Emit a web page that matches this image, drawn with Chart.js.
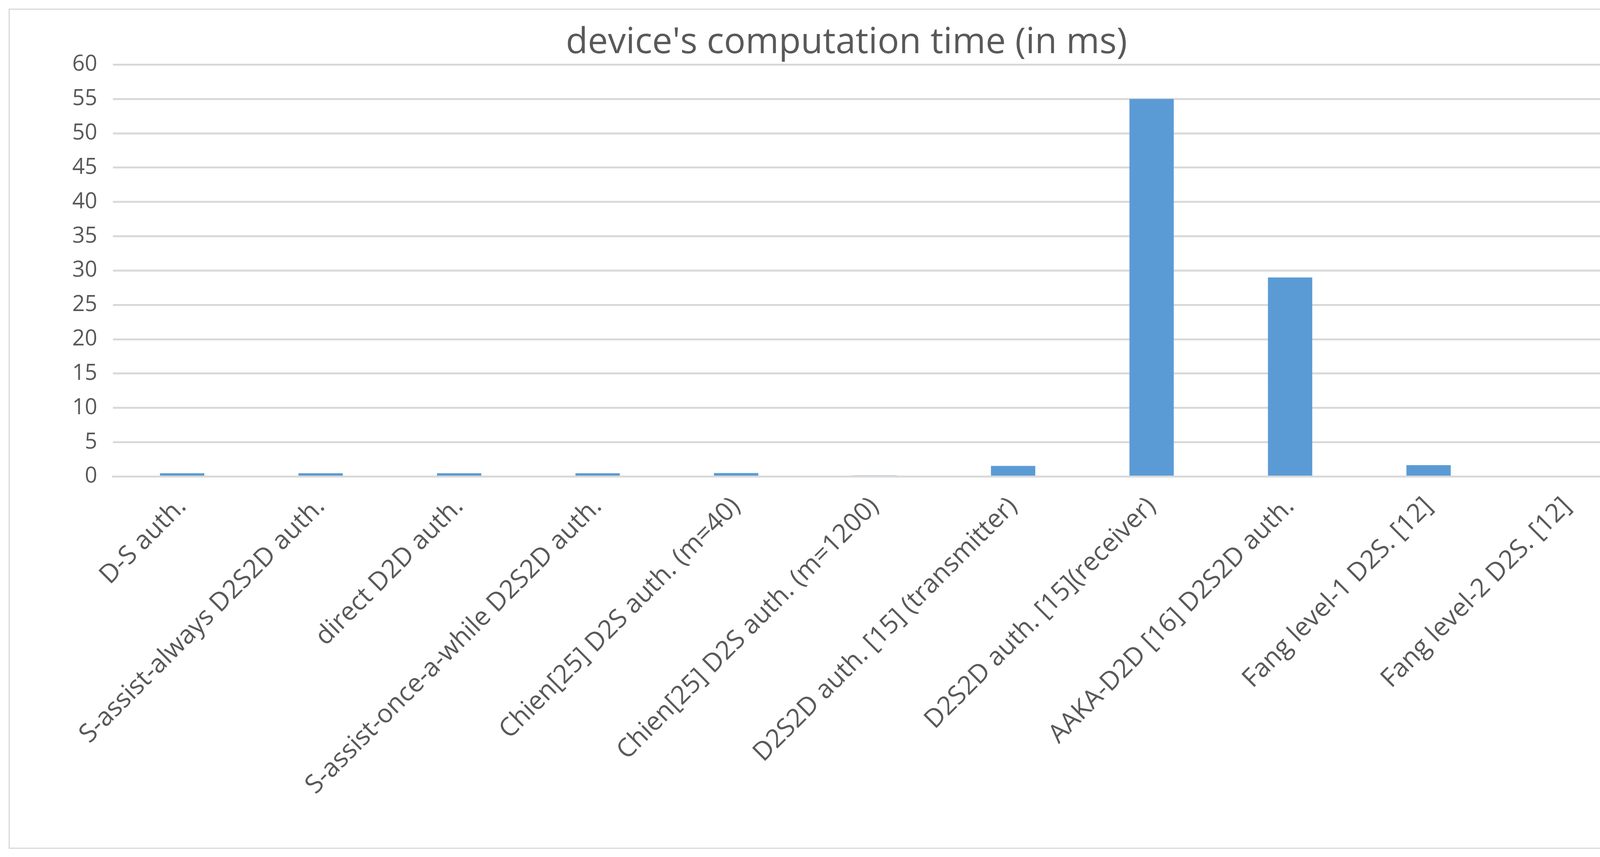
<!DOCTYPE html><html><head><script src="https://cdn.jsdelivr.net/npm/chart.js@4"></script>
<style>html,body{margin:0;background:#fff}#w{position:absolute;left:22px;top:22px;width:4320px;height:2150px;border:3px solid #d9d9d9;box-sizing:border-box}</style></head><body>
<div id="w"><canvas id="c"></canvas></div>
<script>
const categories=["D-S auth.","S-assist-always D2S2D auth.","direct D2D auth.","S-assist-once-a-while D2S2D auth.","Chien[25] D2S auth. (m=40)","Chien[25] D2S auth. (m=1200)","D2S2D auth. [15] (transmitter)","D2S2D auth. [15](receiver)","AAKA-D2D [16] D2S2D auth.","Fang level-1 D2S. [12]","Fang level-2 D2S. [12]"];
const values=[0.48,0.48,0.48,0.48,0.52,0.17,1.55,55,29,1.67,0];
Chart.defaults.font.family="'Open Sans','Liberation Sans',sans-serif";
Chart.defaults.color="#595959";
new Chart(document.getElementById('c'),{type:'bar',
data:{labels:categories,datasets:[{data:values,backgroundColor:'#5b9bd5',categoryPercentage:1,barPercentage:0.32}]},
options:{responsive:true,maintainAspectRatio:false,animation:false,
layout:{padding:{left:120,right:150,top:10,bottom:90}},
plugins:{legend:{display:false},title:{display:true,text:"device's computation time (in ms)",font:{size:92,weight:'normal'},color:'#595959',padding:{top:20,bottom:0}}},
scales:{y:{min:0,max:60,ticks:{stepSize:5,font:{size:56},color:'#595959',padding:40},grid:{color:'#d9d9d9',lineWidth:5,drawTicks:false},border:{display:false}},
x:{ticks:{font:{size:66},color:'#595959',maxRotation:45,minRotation:45,padding:30},grid:{display:false},border:{color:'#d9d9d9',width:5}}}}});
</script></body></html>
